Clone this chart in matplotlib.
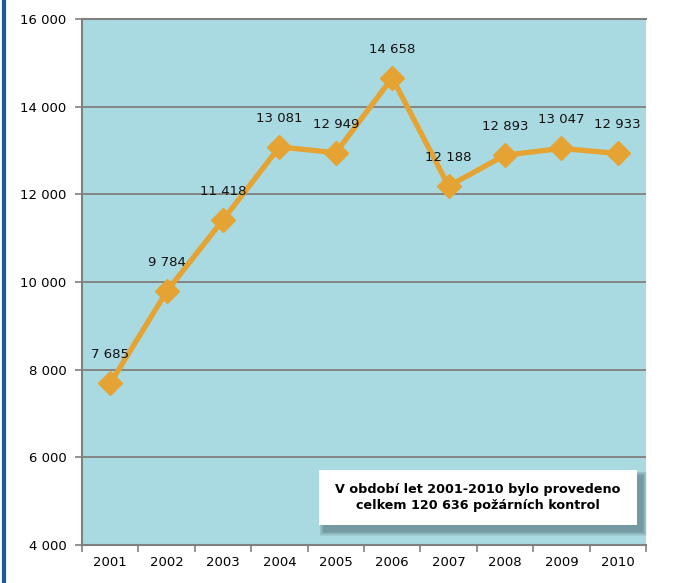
import matplotlib
matplotlib.use("Agg")
import matplotlib.pyplot as plt
from matplotlib.patches import Rectangle
from matplotlib.lines import Line2D

years = ["2001", "2002", "2003", "2004", "2005", "2006", "2007", "2008", "2009", "2010"]
values = [7685, 9784, 11418, 13081, 12949, 14658, 12188, 12893, 13047, 12933]
y_ticks = [4000, 6000, 8000, 10000, 12000, 14000, 16000]
note_text = "V období let 2001-2010 bylo provedeno\ncelkem 120 636 požárních kontrol"

def fmt(v):
    return f"{v:,}".replace(",", " ")

fig = plt.figure(figsize=(6.75, 5.83), dpi=100)
ax = fig.add_axes([82/675, 38/583, (646-82)/675, (545-19)/583])
ax.set_facecolor("#A9DAE1")

x = list(range(len(years)))
ax.plot(x, values, color="#E5A333", lw=3.8, marker="D", markersize=12.5,
        markerfacecolor="#E5A333", markeredgecolor="#E5A333", zorder=3, clip_on=False)

for xi, v in zip(x, values):
    ax.annotate(fmt(v), (xi, v), xytext=(0, 16), textcoords="offset points",
                ha="center", va="bottom", fontsize=9.5, color="#111111")

ax.set_xlim(-0.5, len(years) - 0.5)
ax.set_ylim(4000, 16000)
ax.set_yticks(y_ticks)
ax.set_yticklabels([fmt(t) for t in y_ticks], fontsize=9.5)
ax.set_xticks(x)
ax.set_xticklabels(years, fontsize=9.5)
ax.tick_params(axis="x", length=0, pad=8)
ax.set_xticks([i - 0.5 for i in range(len(years) + 1)], minor=True)
ax.tick_params(axis="x", which="minor", length=5, color="#808080", width=1.2)
ax.tick_params(axis="y", length=5, color="#808080", width=1.2, pad=6)
ax.grid(axis="y", color="#858585", lw=1.4)
ax.set_axisbelow(True)
ax.spines["right"].set_visible(False)
for s in ["left", "bottom", "top"]:
    ax.spines[s].set_color("#808080")
    ax.spines[s].set_linewidth(1.5)

# note box with soft shadow
bx0, by0, bw, bh = 319/675, (583-525)/583, (637-319)/675, (525-470)/583
for k in range(6, 0, -1):
    g = k * 0.75
    shadow = Rectangle((bx0 + (5 - g)/675, by0 - (6 + g)/583), bw + 2*g/675, bh + 2*g/583,
                       transform=fig.transFigure, facecolor="#3a4a55", alpha=0.09,
                       edgecolor="none", zorder=4)
    fig.patches.append(shadow)
box = Rectangle((bx0, by0), bw, bh, transform=fig.transFigure,
                facecolor="white", edgecolor="none", zorder=5)
fig.patches.append(box)
fig.text(bx0 + bw/2, by0 + bh/2, note_text, ha="center", va="center",
         fontsize=9.2, fontweight="bold", linespacing=1.35, zorder=6)

# left blue border
fig.add_artist(Line2D([4/675, 4/675], [0, 1], transform=fig.transFigure,
                      color="#1E5A96", lw=3))

fig.savefig("out.png", dpi=100)
